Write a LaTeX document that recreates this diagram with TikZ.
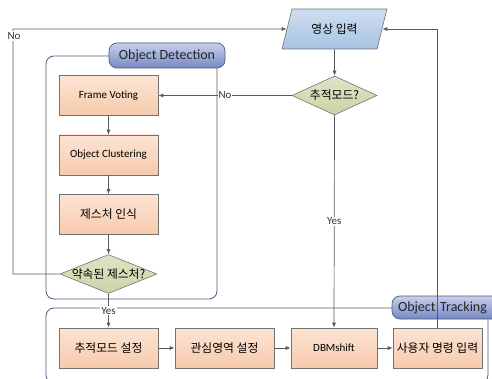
\documentclass[tikz,border=0pt]{standalone}
\usepackage{fontspec}
\setmainfont{Carlito}
\newfontfamily\kr{Noto Sans CJK KR}
\usetikzlibrary{shapes.geometric,arrows.meta}
\definecolor{lnc}{HTML}{5A5A5A}
\definecolor{frc}{HTML}{515B7C}
\newcommand\krf{\kr\fontsize{11.8}{13}\selectfont}
\tikzset{
  procbox/.style={rectangle, draw=lnc!85, line width=0.6pt, top color={rgb,255:red,252;green,228;blue,212}, bottom color={rgb,255:red,246;green,202;blue,172}, minimum height=40pt, inner sep=0pt, font=\fontsize{11}{13}\selectfont},
  decbox/.style={diamond, draw=lnc!85, line width=0.6pt, top color={rgb,255:red,222;green,228;blue,198}, bottom color={rgb,255:red,202;green,212;blue,166}, inner sep=0pt},
  iobox/.style={trapezium, trapezium left angle=63.4, trapezium right angle=116.6, trapezium stretches=true, draw=lnc!85, line width=0.6pt, top color={rgb,255:red,206;green,222;blue,240}, bottom color={rgb,255:red,168;green,195;blue,225}, inner sep=0pt},
  tabbox/.style={rectangle, rounded corners=8pt, draw=frc, line width=0.7pt, top color={rgb,255:red,200;green,208;blue,236}, bottom color={rgb,255:red,118;green,136;blue,196}, inner sep=0pt, font=\fontsize{14}{16}\selectfont, text=black!85},
  framebox/.style={draw=frc, line width=0.8pt, rounded corners=8pt},
  conn/.style={draw=lnc, line width=0.7pt},
  arr/.style={conn, -{Latex[length=5pt,width=4pt]}},
  lbl/.style={fill=white, inner sep=1pt, font=\fontsize{11}{13}\selectfont, text=black!80}
}
\begin{document}
\begin{tikzpicture}[x=1pt,y=-1pt]
\useasboundingbox (0,0) rectangle (492,379);
% frames
\draw[framebox] (46,56) rectangle (217,299);
\draw[framebox] (46,308) rectangle (488,383);
\node[tabbox, minimum width=116pt, minimum height=25pt] (odtab) at (167,55.5) {Object Detection};
\node[tabbox, minimum width=112pt, minimum height=23pt, text width=100pt, align=left] (ottab) at (448,307.5) {Object Tracking};
% nodes
\node[iobox, minimum width=105pt, minimum height=40pt, font=\krf] (para) at (334.5,29) {영상 입력};
\node[decbox, minimum width=85pt, minimum height=39pt, label={[font=\krf]center:추적모드?}] (tm) at (334.5,95.5) {};
\node[procbox, minimum width=99pt] (fv) at (108.5,95.5) {Frame Voting};
\node[procbox, minimum width=99pt] (oc) at (108.5,155) {Object Clustering};
\node[procbox, minimum width=99pt, font=\krf] (gr) at (108.5,214.5) {제스처 인식};
\node[decbox, minimum width=97pt, minimum height=39pt, label={[font=\krf]center:약속된 제스처?}] (pg) at (108.5,274) {};
\node[procbox, minimum width=99pt, font=\krf] (st) at (108.5,348) {추적모드 설정};
\node[procbox, minimum width=99pt, font=\krf] (roi) at (224.5,348) {관심영역 설정};
\node[procbox, minimum width=86pt] (dbm) at (334,348) {DBMshift};
\node[procbox, minimum width=89pt, font=\krf] (uc) at (437.5,348) {사용자 명령 입력};
\coordinate (cnr) at (13,29);
% connectors
\draw[arr] (para.south) -- (tm.north);
\draw[arr] (tm.west) -- node[lbl, pos=0.5] {No} (fv.east);
\draw[arr] (tm.south) -- node[lbl, pos=0.5] {Yes} (dbm.north);
\draw[arr] (fv.south) -- (oc.north);
\draw[arr] (oc.south) -- (gr.north);
\draw[arr] (gr.south) -- (pg.north);
\draw[arr] (pg.south) -- node[lbl, pos=0.5] {Yes} (st.north);
\draw[arr] (pg.west) -| (cnr) -- (para.west);
\node[lbl] (nolbl) at (14,36) {No};
\draw[arr] (st.east) -- (roi.west);
\draw[arr] (roi.east) -- (dbm.west);
\draw[arr] (dbm.east) -- (uc.west);
\draw[arr] (uc.north) |- (para.east);
\end{tikzpicture}
\end{document}
